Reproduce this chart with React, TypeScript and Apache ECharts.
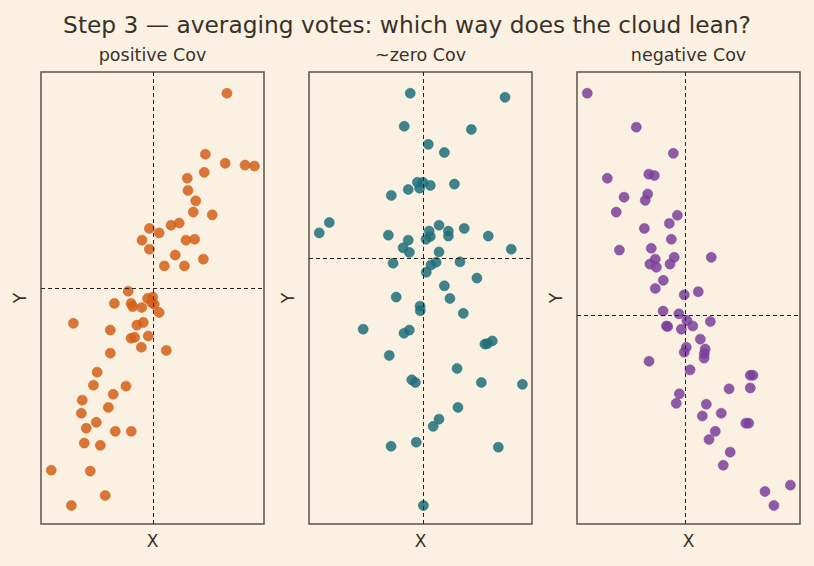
import React, { useEffect, useRef } from "react";
import * as echarts from "echarts";

// Three clouds of (x, y) samples, one per covariance case
const posX = [8.34, 7.37, 8.26, 9.15, 9.57, 7.32, 6.56, 6.59, 6.94, 6.83, 7.68, 5.83, 6.2, 4.86, 5.3, 4.53, 6.5, 6.89, 4.86, 6.02, 7.28, 5.53, 6.43, 3.91, 4.78, 5.01, 4.96, 5.08, 3.29, 4.04, 4.11, 4.52, 5.3, 1.45, 4.59, 4.3, 3.11, 4.04, 4.2, 4.81, 4.5, 5.62, 3.11, 2.52, 2.35, 3.81, 3.24, 1.85, 3.02, 1.81, 2.48, 2.03, 3.33, 4.05, 1.94, 2.66, 0.46, 2.21, 2.88, 1.36];
const posY = [9.53, 8.18, 7.98, 7.94, 7.92, 7.78, 7.65, 7.38, 7.15, 6.9, 6.84, 6.61, 6.66, 6.54, 6.44, 6.28, 6.28, 6.3, 6.08, 5.95, 5.86, 5.71, 5.71, 5.15, 4.99, 5.02, 4.9, 4.86, 4.88, 4.88, 4.81, 4.79, 4.68, 4.44, 4.46, 4.4, 4.29, 4.11, 4.13, 4.16, 3.91, 3.84, 3.78, 3.36, 3.07, 3.05, 2.87, 2.74, 2.58, 2.45, 2.25, 2.12, 2.05, 2.05, 1.79, 1.74, 1.19, 1.17, 0.63, 0.41];

const zeroX = [4.54, 8.79, 4.27, 7.28, 5.35, 6.07, 4.86, 5.11, 5.44, 6.52, 4.45, 4.96, 3.69, 0.91, 0.46, 5.83, 5.39, 6.25, 6.96, 3.56, 5.44, 5.25, 6.25, 8.04, 4.45, 4.22, 4.5, 5.83, 9.07, 3.77, 5.47, 5.7, 6.77, 5.26, 7.53, 6.07, 3.91, 6.32, 4.98, 4.99, 6.92, 2.43, 4.26, 4.5, 7.89, 8.22, 8.0, 3.6, 6.64, 4.61, 4.77, 7.73, 9.57, 6.68, 5.83, 5.57, 3.68, 4.81, 8.49, 5.13];
const zeroY = [9.53, 9.44, 8.8, 8.73, 8.4, 8.22, 7.56, 7.56, 7.49, 7.52, 7.4, 7.43, 7.27, 6.67, 6.44, 6.61, 6.48, 6.48, 6.54, 6.39, 6.36, 6.3, 6.37, 6.37, 6.28, 6.11, 6.01, 6.02, 6.08, 5.77, 5.73, 5.79, 5.8, 5.57, 5.44, 5.27, 5.02, 4.99, 4.82, 4.72, 4.66, 4.31, 4.22, 4.29, 3.98, 4.05, 3.99, 3.73, 3.44, 3.19, 3.13, 3.13, 3.09, 2.58, 2.32, 2.16, 1.72, 1.81, 1.7, 0.41];

const negX = [0.46, 2.66, 4.32, 1.36, 3.22, 3.47, 2.11, 3.17, 3.06, 1.76, 4.5, 4.14, 3.02, 4.23, 1.9, 3.33, 6.02, 3.51, 4.36, 3.27, 3.56, 4.17, 3.87, 3.51, 4.81, 5.44, 3.86, 4.57, 4.93, 5.19, 5.98, 4.07, 4.01, 4.68, 5.53, 4.9, 4.81, 5.75, 5.71, 5.7, 3.23, 5.07, 7.77, 7.89, 6.82, 7.77, 4.59, 4.45, 5.8, 6.47, 5.62, 7.57, 7.7, 6.2, 5.92, 6.87, 6.56, 9.57, 8.43, 8.83];
const negY = [9.53, 8.78, 8.2, 7.65, 7.74, 7.71, 7.23, 7.3, 7.16, 6.9, 6.83, 6.65, 6.54, 6.3, 6.06, 6.1, 5.9, 5.86, 5.9, 5.75, 5.68, 5.75, 5.39, 5.21, 5.07, 5.14, 4.71, 4.65, 4.5, 4.38, 4.48, 4.37, 4.38, 4.31, 4.09, 3.91, 3.8, 3.87, 3.77, 3.67, 3.6, 3.41, 3.29, 3.29, 2.99, 3.01, 2.88, 2.67, 2.65, 2.45, 2.39, 2.23, 2.23, 2.05, 1.87, 1.59, 1.3, 0.86, 0.72, 0.41];

// Mean of each cloud (the dashed crosshair)
const meanX = [5.04, 5.13, 4.86];
const meanY = [5.22, 5.87, 4.62];

const panelTitles = ["positive Cov", "~zero Cov", "negative Cov"];
const colors = ["#d25f18", "#1e6f7a", "#7a3f9a"];
const mainTitle = "Step 3 \u2014 averaging votes: which way does the cloud lean?";

const panels = [
  { xs: posX, ys: posY },
  { xs: zeroX, ys: zeroY },
  { xs: negX, ys: negY },
];

const BG = "#faf1e2";
const INK = "#3a3129";
const FRAME = "#5c5145";
const FONT = "DejaVu Sans";

export default function App() {
  const ref = useRef<HTMLDivElement>(null);

  useEffect(() => {
    if (!ref.current) return;
    const chart = echarts.init(ref.current, undefined, { renderer: "svg" });

    const left0 = 41;
    const step = 268;
    const top = 72;
    const w = 223;
    const h = 452;

    const grids = panels.map((_, i) => ({
      left: left0 + i * step,
      top,
      width: w,
      height: h,
      show: true,
      backgroundColor: BG,
      borderColor: FRAME,
      borderWidth: 1.5,
    }));

    const axisCommon = {
      min: 0,
      max: 10,
      axisLine: { show: false },
      axisTick: { show: false },
      axisLabel: { show: false },
      splitLine: { show: false },
    };

    const xAxes = panels.map((_, i) => ({
      ...axisCommon,
      type: "value",
      gridIndex: i,
      name: "X",
      nameLocation: "middle",
      nameGap: 8,
      nameTextStyle: { fontFamily: FONT, fontSize: 17, color: INK },
    }));
    const yAxes = panels.map((_, i) => ({
      ...axisCommon,
      type: "value",
      gridIndex: i,
      name: "Y",
      nameLocation: "middle",
      nameGap: 13,
      nameTextStyle: { fontFamily: FONT, fontSize: 17, color: INK },
    }));

    const series = panels.map((p, i) => ({
      type: "scatter",
      xAxisIndex: i,
      yAxisIndex: i,
      data: p.xs.map((x, k) => [x, p.ys[k]]),
      symbolSize: 10,
      itemStyle: {
        color: colors[i],
        opacity: 0.85,
        borderColor: colors[i],
        borderWidth: 0.6,
      },
      markLine: {
        silent: true,
        symbol: "none",
        label: { show: false },
        lineStyle: { color: "#2b231c", width: 1, type: [4, 3] },
        data: [{ xAxis: meanX[i] }, { yAxis: meanY[i] }],
      },
    }));

    const texts: any[] = [
      {
        type: "text",
        x: 407,
        y: 24,
        style: {
          text: mainTitle,
          fontFamily: FONT,
          fontSize: 23.3,
          fill: INK,
          textAlign: "center",
          textVerticalAlign: "middle",
        },
      },
      ...panelTitles.map((t, i) => ({
        type: "text",
        x: left0 + i * step + w / 2,
        y: 55,
        style: {
          text: t,
          fontFamily: FONT,
          fontSize: 17.5,
          fill: INK,
          textAlign: "center",
          textVerticalAlign: "middle",
        },
      })),
    ];

    chart.setOption({
      animation: false,
      backgroundColor: BG,
      grid: grids,
      xAxis: xAxes,
      yAxis: yAxes,
      series,
      graphic: texts,
    });

    return () => chart.dispose();
  }, []);

  return (
    <div
      ref={ref}
      style={{ position: "fixed", left: 0, top: 0, width: 814, height: 566, background: BG }}
    />
  );
}
